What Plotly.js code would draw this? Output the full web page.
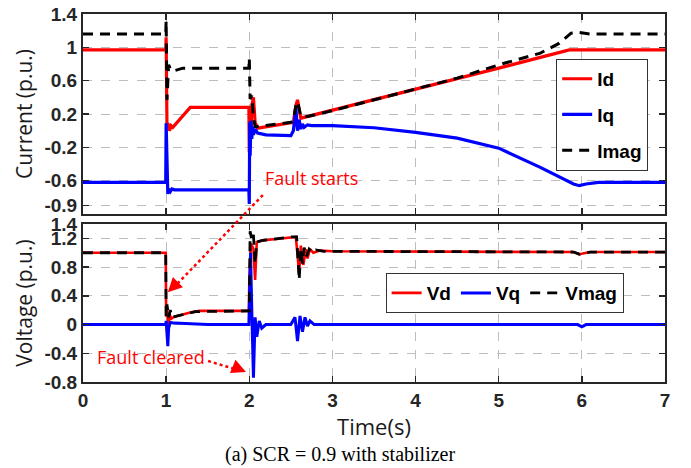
<!DOCTYPE html>
<html><head><meta charset="utf-8">
<script src="https://cdn.plot.ly/plotly-3.0.1.min.js"></script>
<style>html,body{margin:0;padding:0;background:#fff;}#chart{width:691px;height:468px;}</style>
</head><body><div id="chart"></div>
<script>
// ---- Current subplot data ----
const tId   = [0,0.995,1.0,1.005,1.01,1.02,1.04,1.06,1.08,1.29,1.995,2.0,2.01,2.02,2.03,2.05,2.07,2.1,2.5,2.53,2.56,2.58,2.62,2.7,3.0,4.0,5.0,5.5,5.85,7.0];
const Id    = [0.97,0.97,1.12,0.5,0.05,0.09,0.0,0.06,0.04,0.28,0.28,-0.26,0.15,-0.05,0.3,0.4,0.1,0.03,0.09,0.1,0.3,0.37,0.15,0.17,0.24,0.5,0.75,0.88,0.97,0.97];
const tIq   = [0,0.995,1.0,1.005,1.01,1.02,1.03,1.05,1.07,1.1,1.995,2.0,2.005,2.01,2.02,2.03,2.04,2.05,2.07,2.1,2.2,2.5,2.53,2.56,2.58,2.6,2.62,2.64,2.66,2.7,2.75,2.8,3.0,3.5,4.0,4.5,5.0,5.5,5.75,5.9,5.97,6.05,6.2,7.0];
const Iq    = [-0.62,-0.62,0.09,-0.3,-0.72,-0.76,-0.7,-0.73,-0.7,-0.71,-0.71,-0.88,0.1,-0.3,0.12,-0.1,0.05,-0.05,0.02,-0.03,-0.05,-0.06,0.0,0.27,0.0,0.13,0.02,0.08,0.04,0.07,0.06,0.06,0.06,0.035,-0.02,-0.09,-0.21,-0.44,-0.56,-0.64,-0.66,-0.64,-0.62,-0.62];
const tImag = [0,0.995,1.0,1.01,1.03,1.06,1.1,1.2,1.995,2.0,2.01,2.03,2.05,2.07,2.1,2.5,2.53,2.56,2.58,2.62,2.7,3.0,4.0,4.5,5.0,5.5,5.73,5.87,5.95,6.1,7.0];
const Imag  = [1.16,1.16,1.32,0.37,0.79,0.72,0.72,0.75,0.75,0.87,0.38,0.42,0.15,0.05,0.05,0.1,0.12,0.3,0.35,0.17,0.17,0.24,0.5,0.63,0.79,0.93,1.05,1.17,1.18,1.16,1.16];

// ---- Voltage subplot data ----
const tVd   = [0,0.995,1.0,1.01,1.025,1.04,1.06,1.1,1.3,1.4,1.995,2.0,2.02,2.05,2.07,2.09,2.15,2.5,2.56,2.6,2.62,2.65,2.68,2.7,2.73,2.77,2.85,3.0,4.0,5.0,5.9,5.97,6.1,7.0];
const Vd    = [1.0,1.0,0.11,0.23,0.0,0.15,0.08,0.11,0.17,0.19,0.19,0.6,1.13,1.05,0.62,1.15,1.17,1.22,1.22,0.72,1.1,0.83,1.05,0.92,1.05,1.0,1.03,1.02,1.02,1.02,1.01,0.98,1.01,1.01];
const tVq   = [0,0.995,1.0,1.01,1.02,1.03,1.05,1.1,1.5,1.995,2.0,2.015,2.03,2.05,2.07,2.09,2.12,2.15,2.2,2.5,2.55,2.58,2.61,2.64,2.67,2.7,2.73,2.78,3.0,5.95,6.0,6.05,7.0];
const Vq    = [0.0,0.0,0.05,-0.1,-0.3,-0.05,0.03,0.02,0.0,0.0,0.3,1.0,0.2,-0.74,0.1,-0.17,0.05,-0.05,0.0,0.0,0.1,-0.23,0.12,-0.1,0.1,-0.02,0.05,0.0,0.0,0.0,-0.03,0.0,0.0];
const tVmag = [0,0.995,1.0,1.01,1.03,1.05,1.07,1.1,1.35,1.995,2.0,2.01,2.03,2.05,2.07,2.09,2.15,2.5,2.55,2.57,2.6,2.62,2.64,2.66,2.69,2.72,2.76,2.8,2.9,4.0,5.0,5.9,5.97,6.1,7.0];
const Vmag  = [1.0,1.0,0.12,0.28,0.1,0.2,0.1,0.11,0.18,0.19,0.19,1.3,1.18,1.25,0.85,1.15,1.17,1.22,1.22,1.22,0.62,1.05,0.85,1.07,0.95,1.05,1.0,1.04,1.02,1.02,1.02,1.01,0.98,1.01,1.01];

const xTicks = [0,1,2,3,4,5,6,7];
const yTicksI = [-0.9,-0.6,-0.2,0.2,0.6,1,1.4];
const yTicksV = [-0.8,-0.4,0,0.4,0.8,1.2,1.4];

const RED = '#ff0000', BLUE = '#0000ff', BLK = '#000000';
const dashPat = '10px,7px';

const traces = [
  {x:tId, y:Id, name:'Id', type:'scatter', mode:'lines', line:{color:RED,width:3.2}, xaxis:'x', yaxis:'y', legend:'legend', legendgroup:'a'},
  {x:tIq, y:Iq, name:'Iq', type:'scatter', mode:'lines', line:{color:BLUE,width:3.2}, xaxis:'x', yaxis:'y', legend:'legend', legendgroup:'b'},
  {x:tImag, y:Imag, name:'Imag', type:'scatter', mode:'lines', line:{color:BLK,width:3,dash:dashPat}, xaxis:'x', yaxis:'y', legend:'legend', legendgroup:'c'},
  {x:tVd, y:Vd, name:'Vd', type:'scatter', mode:'lines', line:{color:RED,width:2.6}, xaxis:'x2', yaxis:'y2', legend:'legend2'},
  {x:tVq, y:Vq, name:'Vq', type:'scatter', mode:'lines', line:{color:BLUE,width:3}, xaxis:'x2', yaxis:'y2', legend:'legend2'},
  {x:tVmag, y:Vmag, name:'Vmag', type:'scatter', mode:'lines', line:{color:BLK,width:2.8,dash:dashPat}, xaxis:'x2', yaxis:'y2', legend:'legend2'}
];

const tickFont = {family:'Liberation Sans, Arial, sans-serif', size:19, color:'#262626', weight:'bold'};
const titleFont = {family:'Open Sans, Liberation Sans, sans-serif', size:21, color:'#1a1a1a'};
const axCommon = {
  showline:true, linecolor:'#262626', linewidth:2, mirror:'ticks',
  ticks:'inside', ticklen:6, tickwidth:1.5, tickcolor:'#262626',
  showgrid:true, gridcolor:'#bdbdbd', gridwidth:1, griddash:'dash',
  zeroline:false, tickfont:tickFont, fixedrange:true
};

const layout = {
  width:691, height:468,
  margin:{l:83, r:26, t:14, b:86},
  paper_bgcolor:'#fff', plot_bgcolor:'#fff',
  showlegend:true,
  xaxis:Object.assign({}, axCommon, {domain:[0,1], anchor:'y', range:[0,7], tickvals:xTicks, showticklabels:false}),
  yaxis:Object.assign({}, axCommon, {domain:[0.4565,1], anchor:'x', range:[-1.0,1.4], tickvals:yTicksI, ticktext:yTicksI.map(String),
        title:{text:'Current (p.u.)', font:titleFont, standoff:6}}),
  xaxis2:Object.assign({}, axCommon, {domain:[0,1], anchor:'y2', range:[0,7], tickvals:xTicks,
        title:{text:'Time(s)', font:Object.assign({}, titleFont, {size:22}), standoff:0}}),
  yaxis2:Object.assign({}, axCommon, {domain:[0,0.4293], anchor:'x2', range:[-0.8,1.4], tickvals:yTicksV, ticktext:yTicksV.map(String),
        title:{text:'Voltage (p.u.)', font:titleFont, standoff:6}}),
  legend:{x:0.813, y:0.878, xanchor:'left', yanchor:'top', orientation:'v', bgcolor:'#fff',
          bordercolor:'#333', borderwidth:1, tracegroupgap:8,
          font:{family:'Liberation Sans, Arial, sans-serif', size:19, color:'#000', weight:'bold'}},
  legend2:{x:0.52, y:0.296, xanchor:'left', yanchor:'top', orientation:'h', bgcolor:'#fff',
          bordercolor:'#333', borderwidth:1,
          font:{family:'Liberation Sans, Arial, sans-serif', size:19, color:'#000', weight:'bold'}},
  shapes:[
    {type:'line', xref:'paper', yref:'paper', x0:0.309, y0:0.508, x1:0.153, y1:0.252, line:{color:RED, width:2.5, dash:'dot'}},
    {type:'line', xref:'paper', yref:'paper', x0:0.215, y0:0.057, x1:0.272, y1:0.030, line:{color:RED, width:2.5, dash:'dot'}}
  ],
  annotations:[
    {text:'Fault starts', xref:'paper', yref:'paper', x:0.393, y:0.553, xanchor:'center', yanchor:'middle', showarrow:false,
     font:{family:'Open Sans, Liberation Sans, sans-serif', size:18, color:RED}},
    {text:'Fault cleared', xref:'paper', yref:'paper', x:0.117, y:0.068, xanchor:'center', yanchor:'middle', showarrow:false,
     font:{family:'Open Sans, Liberation Sans, sans-serif', size:18, color:RED}},
    {text:'', xref:'x2', yref:'y2', x:1.02, y:0.45, ax:11, ay:-11, showarrow:true, arrowhead:2, arrowsize:1.3, arrowwidth:2.2, arrowcolor:RED},
    {text:'', xref:'x2', yref:'y2', x:1.96, y:-0.66, ax:-12, ay:-5, showarrow:true, arrowhead:2, arrowsize:1.3, arrowwidth:2.2, arrowcolor:RED},
    {text:'(a) SCR = 0.9 with stabilizer', xref:'paper', yref:'paper', x:0.441, y:-0.198, xanchor:'center', yanchor:'middle', showarrow:false,
     font:{family:'Liberation Serif, Times New Roman, serif', size:20, color:'#000'}}
  ]
};

Plotly.newPlot('chart', traces, layout, {displayModeBar:false, staticPlot:true});
</script>
</body></html>
